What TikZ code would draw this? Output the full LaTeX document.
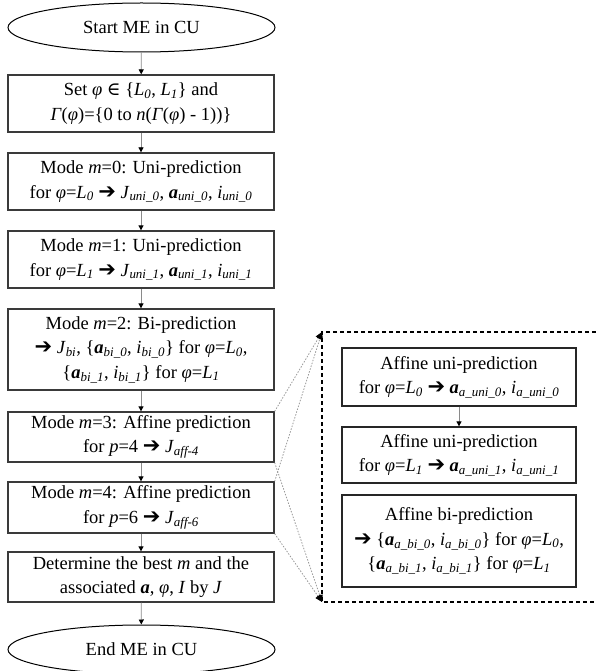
\documentclass[tikz,border=0pt]{standalone}
\usepackage{fontspec}
\setmainfont{Liberation Serif}
\newfontfamily\symfont{DejaVu Sans}
\newfontfamily\elemfont{DejaVu Serif}
\usetikzlibrary{shapes.geometric,arrows.meta}
% inline helpers for the formula-like labels
\newcommand\sbt[1]{\textsubscript{\itshape #1}}
\newcommand\ba{\textbf{\textit{a}}}
\newcommand\arr{{\symfont\bfseries\fontsize{21}{24}\selectfont ➔}}
\newcommand\ph{\textit{φ}}
\newcommand\elem{{\elemfont ∈}}
\definecolor{boxline}{HTML}{3A3A3A}
\definecolor{connline}{HTML}{8A8A8A}
\tikzset{
  txt/.style={font=\fontsize{18.5}{24.5}\selectfont, align=center, inner sep=0pt},
  flowbox/.style={txt, draw=boxline, line width=1.3pt, rectangle, minimum width=266pt},
  subbox/.style={txt, draw=black!85, line width=1.3pt, rectangle, minimum width=234pt},
  terminal/.style={txt, draw=black, line width=1pt, ellipse, minimum width=267pt, minimum height=49pt},
  conn/.style={draw=connline, line width=0.8pt, -{Triangle[length=5pt,width=5pt,fill=black,color=black]}},
  zoomline/.style={draw=gray!80, line width=0.8pt, dash pattern=on 1.5pt off 1.5pt, -{Triangle[length=7pt,width=6pt,fill=black,color=black]}},
  group/.style={draw=black, line width=1.1pt, dash pattern=on 4pt off 3pt}
}
\begin{document}
\begin{tikzpicture}[x=1pt,y=-1pt]
\useasboundingbox (0,0) rectangle (596,671);

% main flow
\node[terminal] (start) at (141.5,27.5) {Start ME in CU};
\node[flowbox, minimum height=57pt] (setphi) at (141,103.5)
  {Set \ph\ \elem\ \{\textit{L}\sbt{0}, \textit{L}\sbt{1}\} and\\ \textit{Γ}(\ph)=\{0 to \textit{n}(\textit{Γ}(\ph) - 1))\}};
\node[flowbox, minimum height=57pt] (m0) at (141,181.5)
  {Mode \textit{m}=0: Uni-prediction\\ for \ph=\textit{L}\sbt{0} \arr\ \textit{J}\sbt{uni\_0}, \ba\sbt{uni\_0}, \textit{i}\sbt{uni\_0}};
\node[flowbox, minimum height=57pt] (m1) at (141,259.5)
  {Mode \textit{m}=1: Uni-prediction\\ for \ph=\textit{L}\sbt{1} \arr\ \textit{J}\sbt{uni\_1}, \ba\sbt{uni\_1}, \textit{i}\sbt{uni\_1}};
\node[flowbox, minimum height=81pt] (m2) at (141,349.5)
  {Mode \textit{m}=2: Bi-prediction\\ \arr\ \textit{J}\sbt{bi}, \{\ba\sbt{bi\_0}, \textit{i}\sbt{bi\_0}\} for \ph=\textit{L}\sbt{0},\\ \{\ba\sbt{bi\_1}, \textit{i}\sbt{bi\_1}\} for \ph=\textit{L}\sbt{1}};
\node[flowbox, minimum height=50pt] (m3) at (141,437)
  {Mode \textit{m}=3: Affine prediction\\ for \textit{p}=4 \arr\ \textit{J}\sbt{aff-4}};
\node[flowbox, minimum height=51pt] (m4) at (141,507.5)
  {Mode \textit{m}=4: Affine prediction\\ for \textit{p}=6 \arr\ \textit{J}\sbt{aff-6}};
\node[flowbox, minimum height=50pt] (best) at (141,577)
  {Determine the best \textit{m} and the\\ associated \ba, \ph, \textit{I} by \textit{J}};
\node[terminal] (finish) at (141.5,649.5) {End ME in CU};

\draw[conn] (start) -- (setphi);
\draw[conn] (setphi) -- (m0);
\draw[conn] (m0) -- (m1);
\draw[conn] (m1) -- (m2);
\draw[conn] (m2) -- (m3);
\draw[conn] (m3) -- (m4);
\draw[conn] (m4) -- (best);
\draw[conn] (best) -- (finish);

% affine sub-steps
\node[subbox, minimum height=58pt] (au0) at (459,377)
  {Affine uni-prediction\\ for \ph=\textit{L}\sbt{0} \arr\ \ba\sbt{a\_uni\_0}, \textit{i}\sbt{a\_uni\_0}};
\node[subbox, minimum height=56pt] (au1) at (459,455)
  {Affine uni-prediction\\ for \ph=\textit{L}\sbt{1} \arr\ \ba\sbt{a\_uni\_1}, \textit{i}\sbt{a\_uni\_1}};
\node[subbox, minimum height=92pt] (abi) at (459,541)
  {Affine bi-prediction\\ \arr\ \{\ba\sbt{a\_bi\_0}, \textit{i}\sbt{a\_bi\_0}\} for \ph=\textit{L}\sbt{0},\\ \{\ba\sbt{a\_bi\_1}, \textit{i}\sbt{a\_bi\_1}\} for \ph=\textit{L}\sbt{1}};
\draw[conn] (au0) -- (au1);

% dashed group frame, open to the right
\coordinate (gTL) at (322,332);
\coordinate (gBL) at (322,602);
\draw[group] (610,332) -- (gTL) -- (gBL) -- (610,602);

% expansion lines from the affine modes
\draw[zoomline] (m3.north east) -- (gTL);
\draw[zoomline] (m4.north east) -- (gTL);
\draw[zoomline] (m3.south east) -- (gBL);
\draw[zoomline] (m4.south east) -- (gBL);
\end{tikzpicture}
\end{document}
